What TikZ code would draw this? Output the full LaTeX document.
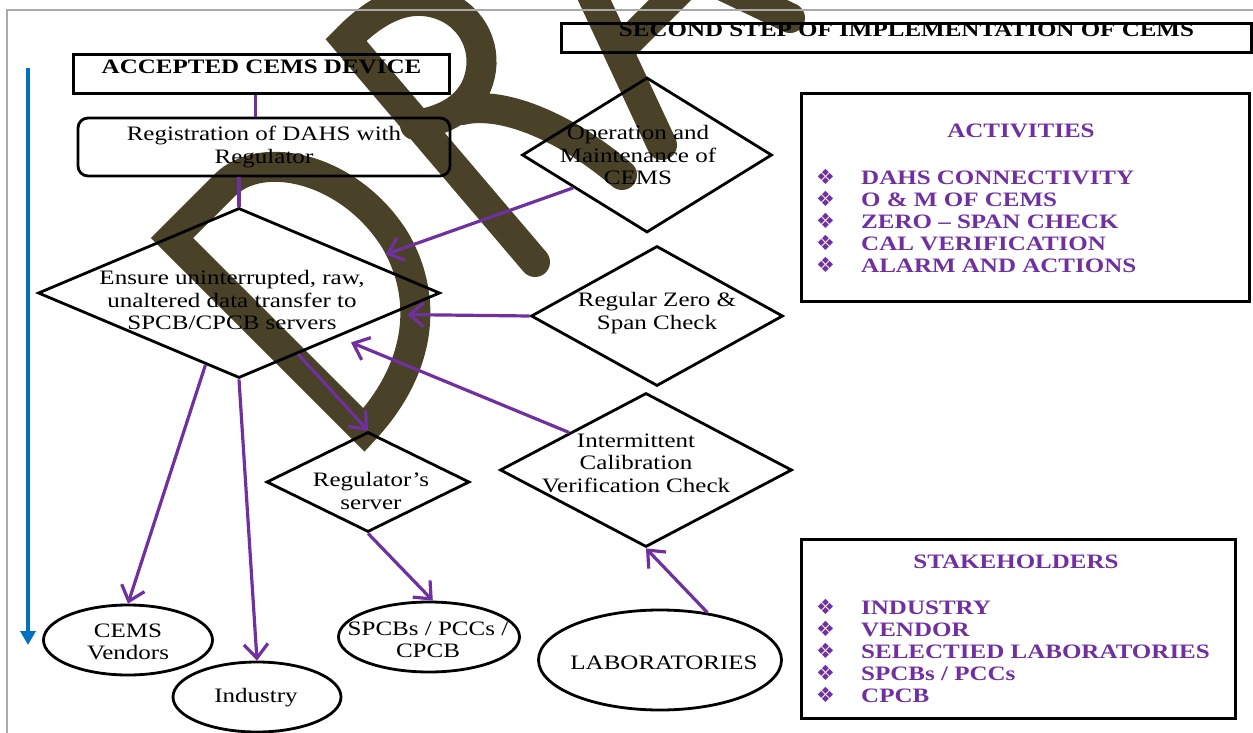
\documentclass[tikz,border=0pt]{standalone}
\usepackage{fontspec}
\setmainfont{Liberation Serif}[FakeStretch=1.22]
\newfontfamily\symfont{DejaVu Sans}
\usetikzlibrary{arrows.meta,shapes.geometric}
\definecolor{cpurple}{RGB}{112,48,160}
\definecolor{cblue}{RGB}{0,112,192}
\definecolor{wmark}{RGB}{73,65,40}
\definecolor{framegray}{RGB}{170,170,170}
\newcommand{\bigfont}{\fontsize{20.5}{22.5}\selectfont}
\newcommand{\bul}{\makebox[45pt][l]{{\symfont\fontsize{21}{17}\selectfont ❖}}}

\tikzset{
	box/.style={draw, line width=3pt, inner sep=0pt},
	dia/.style={diamond, draw, line width=2.8pt, inner sep=0pt},
	oval/.style={ellipse, draw, line width=2.8pt, inner sep=0pt},
	txt/.style={align=center, inner sep=0pt},
	head/.style={inner sep=0pt, font=\bigfont\bfseries},
	itemlist/.style={text=cpurple, align=left, inner sep=0pt, font=\fontsize{20.5}{22.2}\selectfont\bfseries},
	link/.style={cpurple, line width=3.2pt},
	flow/.style={link, -{Straight Barb[length=14pt,width=24pt]}},
	wstroke/.style={wmark, line width=30pt},
}

\begin{document}
\begin{tikzpicture}[x=1pt,y=-1pt,font=\bigfont]
	\useasboundingbox (0,0) rectangle (1253,733);
	% watermark
	\begin{scope}
	\clip (0,0) rectangle (1253,733);
	\draw[wstroke, line join=miter] (364,430) -- (172,238) -- (225,185) .. controls (262,148) and (350,168) .. (395,240) .. controls (430,300) and (420,370) .. (364,430) -- cycle;
	\draw[wstroke, line join=miter, line cap=round] (535,262) -- (346,40) .. controls (375,10) and (405,-5) .. (435,3) .. controls (470,12) and (487,45) .. (480,75) .. controls (474,103) and (450,120) .. (415,125);
	\draw[wstroke, line cap=round] (462,110) .. controls (505,100) and (570,130) .. (622,175);
	\draw[wstroke, line cap=round] (662,145) -- (585,-20);
	\draw[wstroke] (615,55) -- (715,-45);
	\draw[wstroke, line cap=round] (560,-92) -- (790,18);
	\end{scope}
	\draw[framegray, line width=1.5pt] (7,733) -- (7,10) -- (1253,10);
	\coordinate (ttop) at (28,68);
	\coordinate (tbot) at (28,645);
	\draw[cblue, line width=4pt, -{Triangle[length=14pt,width=15pt]}] (ttop) -- (tbot);

	\node[box, head, anchor=north west, minimum width=690pt, text height=13pt, text depth=16pt] (sec) at (560,22) {SECOND STEP OF IMPLEMENTATION OF CEMS};
	\node[box, head, anchor=north west, minimum width=376pt, text height=19pt, text depth=20pt] (acc) at (72,53) {ACCEPTED CEMS DEVICE};
	\node[box, line width=2.8pt, rounded corners=10pt, align=center, minimum width=372pt, minimum height=58pt] (reg) at (264,147) {Registration of DAHS with\\Regulator};

	\node[dia, minimum width=402pt, minimum height=170pt] (big) at (239,293) {};
	\node[txt] (bigtxt) at (232,300) {Ensure uninterrupted, raw,\\unaltered data transfer to\\SPCB/CPCB servers};
	\node[dia, minimum width=250pt, minimum height=155pt] (op) at (647,155) {};
	\node[txt] (optxt) at (638,155) {Operation and\\Maintenance of\\CEMS};
	\node[dia, minimum width=252pt, minimum height=140pt] (zero) at (657,316) {};
	\node[txt] (zerotxt) at (657,313) {Regular Zero \&\\Span Check};
	\node[dia, minimum width=292pt, minimum height=154pt] (int) at (646,470) {};
	\node[txt] (inttxt) at (636,463) {Intermittent\\Calibration\\Verification Check};
	\node[dia, minimum width=203pt, minimum height=100pt] (srv) at (368,482) {};
	\node[txt] (srvtxt) at (371,491) {Regulator’s\\server};

	\node[oval, minimum width=169pt, minimum height=70pt] (vend) at (128,640) {};
	\node[txt] (vendtxt) at (128,642) {CEMS\\Vendors};
	\node[oval, minimum width=168pt, minimum height=70pt] (ind) at (257,697) {};
	\node[txt] (indtxt) at (256,698) {Industry};
	\node[oval, minimum width=181pt, minimum height=70pt] (spcb) at (429,637) {};
	\node[txt] (spcbtxt) at (428,640) {SPCBs / PCCs /\\CPCB};
	\node[oval, minimum width=243pt, minimum height=100pt] (lab) at (660,660) {};
	\node[txt] (labtxt) at (664,663) {LABORATORIES};

	\node[box, anchor=north west, minimum width=448pt, minimum height=208pt] (act) at (800,92) {};
	\node[head, text=cpurple] (acttitle) at (1021,131) {ACTIVITIES};
	\node[itemlist, anchor=west] (actlist) at (816,221) {\bul DAHS CONNECTIVITY\\\bul O \& M OF CEMS\\\bul ZERO – SPAN CHECK\\\bul CAL VERIFICATION\\\bul ALARM AND ACTIONS};
	\node[box, anchor=north west, minimum width=434pt, minimum height=179pt] (stake) at (800,538) {};
	\node[head, text=cpurple] (staketitle) at (1016,562) {STAKEHOLDERS};
	\node[itemlist, anchor=west] (stakelist) at (816,651) {\bul INDUSTRY\\\bul VENDOR\\\bul SELECTIED LABORATORIES\\\bul SPCBs / PCCs\\\bul CPCB};

	\draw[link] ([xshift=-6pt]acc.south) -- ([xshift=-6pt]acc.south |- reg.north);
	\draw[link] (reg.south -| big.north) -- (big.north);
	\draw[flow, shorten >=20pt] (op.204) -- (big.14);
	\draw[flow, shorten >=16pt] (zero.west) -- (big.352);
	\draw[flow, shorten >=14pt] (int.154) -- (big.336);
	\draw[flow] (big.314) -- (srv.north);
	\draw[flow] (big.245) -- (vend.north);
	\draw[flow] (big.south) -- (ind.north);
	\draw[flow] (srv.south) -- (spcb.84);
	\draw[flow] (lab.45) -- (int.south);
\end{tikzpicture}
\end{document}
